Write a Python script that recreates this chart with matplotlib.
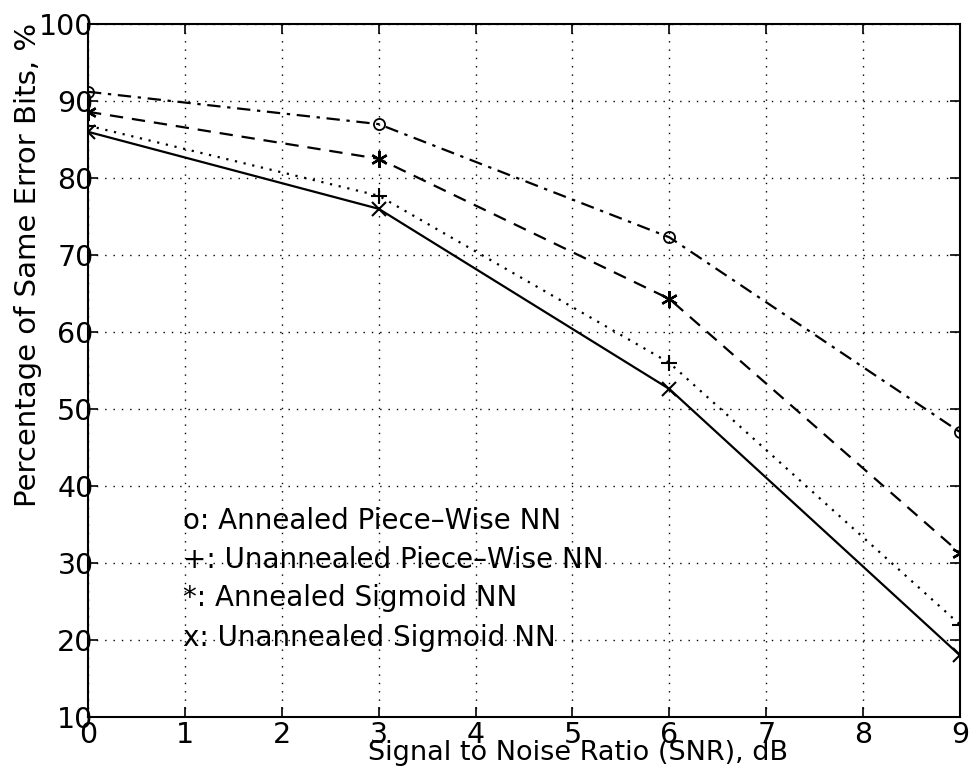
import matplotlib
matplotlib.use("Agg")
import matplotlib.pyplot as plt

plt.rcParams['font.family'] = ['DejaVu Sans']

snr = [0, 3, 6, 9]
annealed_pw = [91.2, 87.0, 72.3, 47.0]
unannealed_pw = [86.8, 77.7, 56.0, 22.0]
annealed_sig = [88.6, 82.5, 64.3, 31.3]
unannealed_sig = [86.0, 76.0, 52.6, 18.0]

legend_lines = ["o: Annealed Piece\u2013Wise NN",
                "+: Unannealed Piece\u2013Wise NN",
                "*: Annealed Sigmoid NN",
                "x: Unannealed Sigmoid NN"]
legend_y = [35.4, 30.4, 25.4, 20.3]

xticks = list(range(0, 10))
yticks = list(range(10, 101, 10))

fig = plt.figure(figsize=(9.76, 7.8), dpi=100)
ax = fig.add_axes([88/976, 1-717/780, (960-88)/976, (717-24)/780])

lw = 1.6
ax.plot(snr, annealed_pw, color='black', lw=lw, linestyle=(0, (6, 3, 1.5, 3)),
        marker='o', markersize=8, markerfacecolor='none', markeredgewidth=1.3)
ax.plot(snr, unannealed_pw, color='black', lw=lw, linestyle=(0, (1, 3)),
        marker='+', markersize=12, markeredgewidth=1.5)
ax.plot(snr, annealed_sig, color='black', lw=lw, linestyle=(0, (6, 4)),
        marker=(6, 2, 0), markersize=12, markeredgewidth=1.7)
ax.plot(snr, unannealed_sig, color='black', lw=lw, linestyle='-',
        marker='x', markersize=10, markeredgewidth=1.5)

for txt, yy in zip(legend_lines, legend_y):
    ax.text(0.98, yy, txt, fontsize=20, va='center', ha='left', color='black')

ax.set_xlim(0, 9)
ax.set_ylim(10, 100)
ax.set_xticks(xticks)
ax.set_yticks(yticks)
ax.grid(True, color='black', linestyle=(0, (1, 5)), linewidth=1.0)
for s in ax.spines.values():
    s.set_linewidth(1.5)
ax.tick_params(direction='in', length=7, width=1.2, top=True, right=True,
               labelsize=20.5)
ax.tick_params(axis='y', pad=-4)
ax.tick_params(axis='x', pad=3)

ax.set_xlabel('Signal to Noise Ratio (SNR), dB', fontsize=19.5, va='center')
ax.xaxis.set_label_coords((578 - 88) / 872, (717 - 753) / 693)
ax.set_ylabel('Percentage of Same Error Bits, %', fontsize=21, va='center')
ax.yaxis.set_label_coords((28 - 88) / 872, (717 - 265) / 693)

fig.savefig('out.png', dpi=100)
